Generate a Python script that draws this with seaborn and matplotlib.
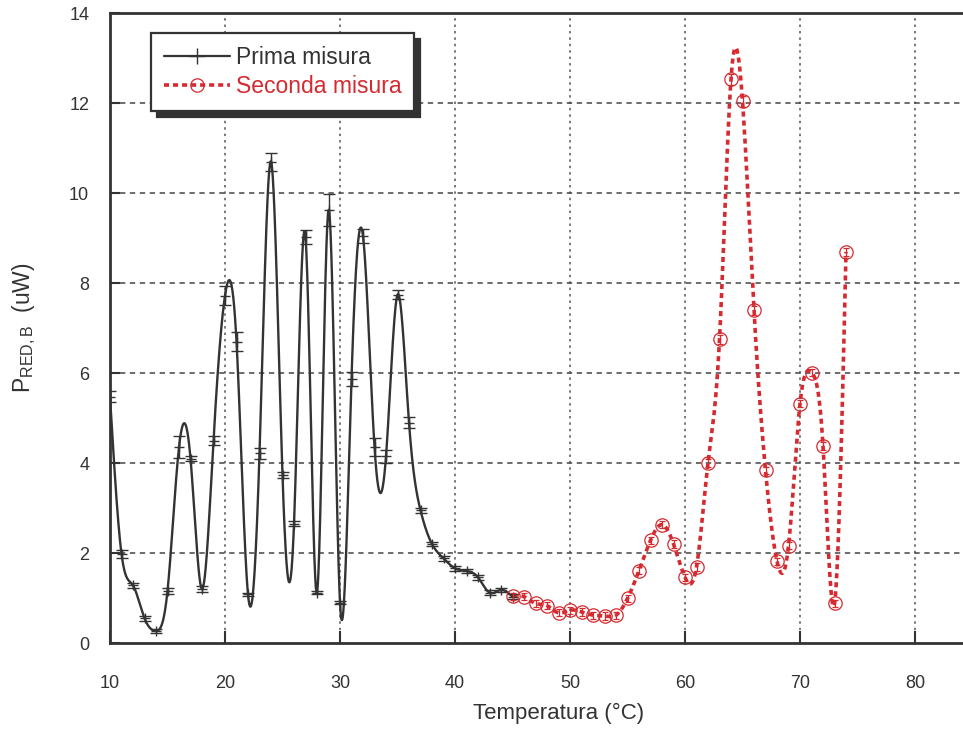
import numpy as np
import matplotlib
matplotlib.use("Agg")
import matplotlib.pyplot as plt
from matplotlib.lines import Line2D
import seaborn as sns

# ---------------- data ----------------
prima_x = [10, 11, 12, 13, 14, 15, 16, 17, 18, 19, 20, 21, 22, 23, 24, 25, 26, 27,
           28, 29, 30, 31, 32, 33, 34, 35, 36, 37, 38, 39, 40, 41, 42, 43, 44, 45]
prima_y = [5.47, 1.98, 1.28, 0.55, 0.27, 1.16, 4.35, 4.10, 1.20, 4.50, 7.72, 6.70,
           1.08, 4.22, 10.70, 3.73, 2.65, 9.02, 1.12, 9.62, 0.90, 5.87, 9.04, 4.36,
           4.15, 7.74, 4.90, 2.95, 2.20, 1.88, 1.66, 1.60, 1.46, 1.12, 1.18, 1.03]
prima_err = [0.12, 0.08, 0.06, 0.06, 0.05, 0.06, 0.24, 0.06, 0.06, 0.10, 0.21, 0.21,
             0.04, 0.12, 0.20, 0.06, 0.06, 0.15, 0.04, 0.35, 0.04, 0.15, 0.15, 0.20,
             0.15, 0.10, 0.13, 0.05, 0.05, 0.05, 0.05, 0.05, 0.05, 0.05, 0.05, 0.05]

seconda_x = [45, 46, 47, 48, 49, 50, 51, 52, 53, 54, 55, 56, 57, 58, 59,
             60, 61, 62, 63, 64, 65, 66, 67, 68, 69, 70, 71, 72, 73, 74]
seconda_y = [1.04, 1.03, 0.88, 0.83, 0.67, 0.73, 0.69, 0.62, 0.60, 0.62, 0.99, 1.61,
             2.28, 2.63, 2.20, 1.46, 1.69, 4.00, 6.75, 12.53, 12.04, 7.39, 3.84, 1.82,
             2.16, 5.32, 6.01, 4.38, 0.88, 8.69]
seconda_err = [0.08, 0.08, 0.08, 0.08, 0.08, 0.08, 0.08, 0.08, 0.08, 0.08, 0.08, 0.08,
               0.08, 0.08, 0.08, 0.08, 0.08, 0.08, 0.10, 0.12, 0.12, 0.10, 0.08, 0.08,
               0.08, 0.08, 0.08, 0.08, 0.08, 0.08]

x_ticks = [10, 20, 30, 40, 50, 60, 70, 80]
y_ticks = [0, 2, 4, 6, 8, 10, 12, 14]
label_prima = "Prima misura"
label_seconda = "Seconda misura"

DARK = "#333333"
RED = "#d42a30"


def natural_spline(x, y, per=40):
    """Smooth curve through the measured points (natural cubic spline)."""
    x = np.asarray(x, float)
    y = np.asarray(y, float)
    n = len(x)
    h = np.diff(x)
    A = np.zeros((n, n))
    b = np.zeros(n)
    A[0, 0] = A[-1, -1] = 1.0
    for i in range(1, n - 1):
        A[i, i - 1] = h[i - 1]
        A[i, i] = 2 * (h[i - 1] + h[i])
        A[i, i + 1] = h[i]
        b[i] = 6 * ((y[i + 1] - y[i]) / h[i] - (y[i] - y[i - 1]) / h[i - 1])
    M = np.linalg.solve(A, b)
    xs, ys = [], []
    for i in range(n - 1):
        t = np.linspace(x[i], x[i + 1], per, endpoint=(i == n - 2))
        a = x[i + 1] - t
        c = t - x[i]
        s = (M[i] * a ** 3 + M[i + 1] * c ** 3) / (6 * h[i]) \
            + (y[i] / h[i] - M[i] * h[i] / 6) * a \
            + (y[i + 1] / h[i] - M[i + 1] * h[i] / 6) * c
        xs.append(t)
        ys.append(s)
    return np.concatenate(xs), np.concatenate(ys)


# ---------------- style ----------------
sns.set_style("ticks")
plt.rcParams["font.family"] = ["Liberation Sans", "DejaVu Sans"]
plt.rcParams["mathtext.fontset"] = "custom"
plt.rcParams["mathtext.rm"] = "Liberation Sans"
plt.rcParams["mathtext.it"] = "Liberation Sans"

fig = plt.figure(figsize=(9.63, 7.31), dpi=100)
W, H = 963, 731
ax_left, ax_right, ax_bottom, ax_top = 110, 963, 643, 13
ax = fig.add_axes([ax_left / W, (H - ax_bottom) / H,
                   (ax_right - ax_left) / W, (ax_bottom - ax_top) / H])

x_max = 10 + (ax_right - ax_left) / 11.5
ax.set_xlim(10, x_max)
ax.set_ylim(0, 14)

# grid
for xv in x_ticks[1:]:
    ax.axvline(xv, color="#555555", lw=1.1, ls=(0, (1.6, 2.6)), zorder=0)
for yv in y_ticks[1:-1]:
    ax.axhline(yv, color="#444444", lw=1.1, ls=(0, (3.5, 3.0)), zorder=0)

# smooth curves
px, py = natural_spline(prima_x, prima_y)
sx, sy = natural_spline(seconda_x, seconda_y)
sns.lineplot(x=px, y=py, ax=ax, color=DARK, lw=1.7, estimator=None, sort=False, zorder=3)
sns.lineplot(x=sx, y=sy, ax=ax, color=RED, lw=2.6, estimator=None, sort=False,
             linestyle=(0, (1.4, 1.1)), zorder=4)

# measured points with error bars
ax.errorbar(prima_x, prima_y, yerr=prima_err, fmt="+", color=DARK, ms=7, mew=1.0,
            elinewidth=1.0, capsize=4, capthick=1.0, zorder=5)
ax.errorbar(seconda_x, seconda_y, yerr=seconda_err, fmt="o", color=RED, mfc="none",
            mec=RED, ms=9.6, mew=0.9, elinewidth=0.9, capsize=2, capthick=0.9, zorder=6)

# axes cosmetics
for side in ["left", "bottom", "top"]:
    ax.spines[side].set_color(DARK)
    ax.spines[side].set_linewidth(2.0)
ax.spines["right"].set_visible(False)
ax.set_xticks(x_ticks)
ax.set_yticks(y_ticks)
ax.tick_params(axis="x", direction="in", length=8.6, width=1.5, color=DARK,
               pad=23, labelsize=13, labelcolor=DARK)
ax.tick_params(axis="y", direction="in", length=7.5, width=1.5, color=DARK,
               pad=15, labelsize=13, labelcolor=DARK)

ax.set_xlabel("Temperatura (°C)", fontsize=16, color=DARK)
ax.xaxis.set_label_coords((559 - ax_left) / (ax_right - ax_left),
                          (ax_bottom - 703) / (ax_bottom - ax_top))
ax.set_ylabel(r"P$_{\mathrm{RED,B}}$  (uW)", fontsize=16.5, color=DARK)
ax.yaxis.set_label_coords((38 - ax_left) / (ax_right - ax_left), 0.5)

# legend
h1 = Line2D([], [], color=DARK, lw=1.6, marker="+", ms=12, mew=1.0)
h2 = Line2D([], [], color=RED, lw=2.6, ls=(0, (1.4, 1.1)), marker="o", ms=9.6,
            mfc="none", mec=RED, mew=0.9)
leg = ax.legend([h1, h2], [label_prima, label_seconda], loc="upper left",
                bbox_to_anchor=((151 - ax_left) / (ax_right - ax_left),
                                (ax_bottom - 33) / (ax_bottom - ax_top)),
                borderaxespad=0, fontsize=16.5, frameon=True, fancybox=False,
                shadow={"ox": 4, "oy": -4, "color": DARK, "alpha": 1.0},
                handlelength=2.9, handletextpad=0.25, borderpad=0.55,
                labelspacing=0.3, framealpha=1.0)
leg.get_frame().set_edgecolor(DARK)
leg.get_frame().set_linewidth(1.6)
leg.get_texts()[0].set_color(DARK)
leg.get_texts()[1].set_color(RED)

fig.savefig("out.png", dpi=100)
